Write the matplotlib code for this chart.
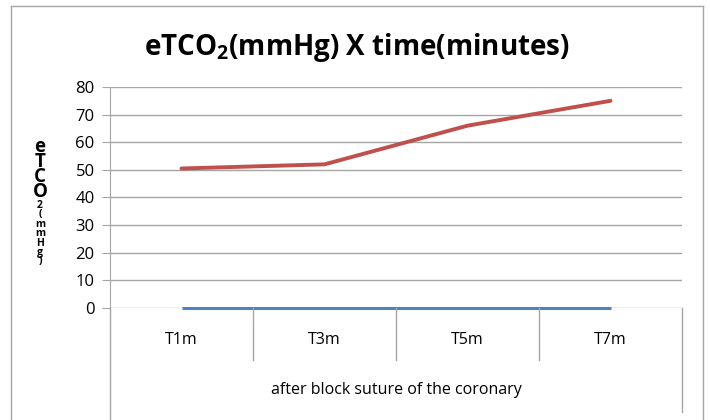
import numpy as np
import matplotlib
matplotlib.use("Agg")
import matplotlib.pyplot as plt
from matplotlib.lines import Line2D

# data
categories = ["T1m", "T3m", "T5m", "T7m"]
etco2_red = [50.5, 52, 66, 75]
etco2_blue = [0, 0, 0, 0]
y_ticks = [0, 10, 20, 30, 40, 50, 60, 70, 80]
group_label = "after block suture of the coronary"
title_text = r"eTCO$_\mathbf{2}$(mmHg) X time(minutes)"
ylabel_big = "eTCO"
ylabel_small = "2(mmHg)"

plt.rcParams["font.family"] = ["Open Sans", "DejaVu Sans"]
plt.rcParams["mathtext.fontset"] = "custom"
plt.rcParams["mathtext.rm"] = "Open Sans"
plt.rcParams["mathtext.bf"] = "Open Sans:bold"

W, H = 710, 420
fig = plt.figure(figsize=(7.1, 4.2), dpi=100)

# plot area in pixels: x 110..682, y(0)=308, y(80)=87
x0, x1, ytop, ybot = 110, 682, 87, 308
ax = fig.add_axes([x0 / W, (H - ybot) / H, (x1 - x0) / W, (ybot - ytop) / H])

grid_col = "#a6a6a6"
x = np.arange(len(categories))
ax.set_xlim(-0.5, len(categories) - 0.5)
ax.set_ylim(0, 80)
for v in y_ticks:
    ax.axhline(v, color=grid_col, lw=1.0, zorder=1)
ax.plot(x, etco2_blue, color="#4f81bd", lw=2.2, zorder=5, solid_capstyle="butt", clip_on=False)
ax.plot(x, etco2_red, color="#c0504d", lw=2.8, zorder=4, solid_capstyle="round")

for s in ["top", "right", "bottom"]:
    ax.spines[s].set_visible(False)
ax.spines["left"].set_color(grid_col)
ax.set_yticks(y_ticks)
ax.tick_params(axis="y", length=6, color=grid_col, labelsize=12, pad=5)
ax.set_xticks([])

# category box below the axis
def fline(xs, ys):
    fig.add_artist(Line2D([xx / W for xx in xs], [1 - yy / H for yy in ys],
                          color=grid_col, lw=1.0))

fline([x0, x0], [ybot, H])
fline([x1, x1], [ybot, 412])
step = (x1 - x0) / len(categories)
for i in range(1, len(categories)):
    fline([x0 + i * step] * 2, [ybot, 360])
for i, c in enumerate(categories):
    fig.text((x0 + (i + 0.5) * step) / W, 1 - 340 / H, c, ha="center", va="center", fontsize=11.5)
fig.text((x0 + x1) / 2 / W, 1 - 390 / H, group_label, ha="center", va="center", fontsize=11.5)

# outer chart frame
fline([11, 11], [6, H])
fline([11, 703], [6, 6])
fline([703, 703], [6, H])

fig.text(357 / W, 1 - 47 / H, title_text, ha="center", va="center",
         fontsize=20, fontweight="bold")

# stacked y label, one character per line
fig.text(40 / W, 1 - 137 / H, "\n".join(ylabel_big), ha="center", va="top",
         fontsize=13.5, fontweight="bold", linespacing=0.66)
fig.text(40 / W, 1 - 200 / H, "\n".join(ylabel_small), ha="center", va="top",
         fontsize=7.5, fontweight="bold", linespacing=0.8)

fig.savefig("out.png", dpi=100)
